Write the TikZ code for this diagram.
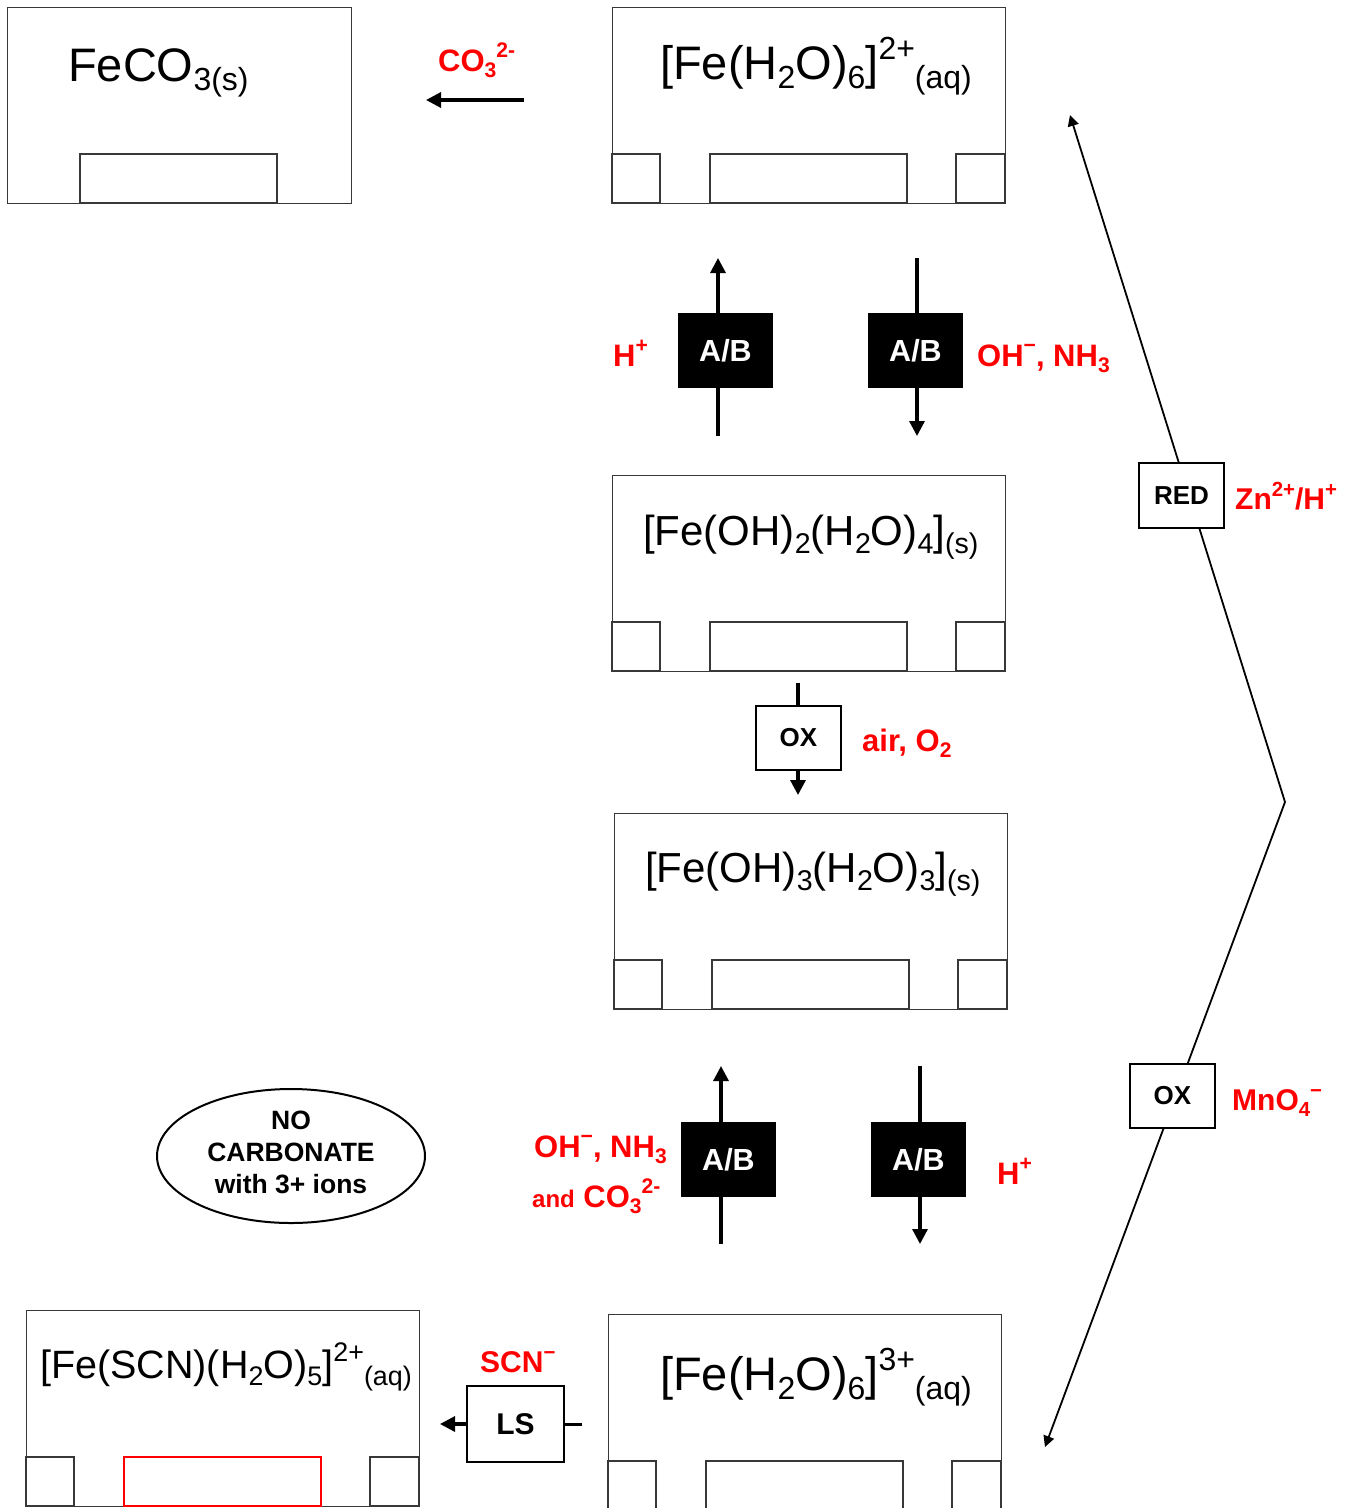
\documentclass[tikz,border=0pt]{standalone}
\usepackage{fontspec}
\setmainfont{Liberation Sans}
\usetikzlibrary{arrows.meta,shapes.geometric}
\newcommand{\dn}[1]{\raisebox{-0.2em}{\scalebox{0.68}{#1}}}
\newcommand{\up}[1]{\raisebox{0.42em}{\scalebox{0.68}{#1}}}
\newcommand{\fs}[1]{\fontsize{#1}{#1}\selectfont}
\newcommand{\slots}[3]{\begin{scope}[shift={(#1,#2)}]
  \draw[sqr] (0,0) rectangle (48,-49);
  \draw[sqr,draw=#3] (98,0) rectangle (295,-49);
  \draw[sqr] (344,0) rectangle (393,-49);
\end{scope}}
\tikzset{
  spbox/.style={draw=black!78, line width=1.3pt, inner sep=0pt, anchor=north west,
    minimum width=393pt, minimum height=196pt},
  sqr/.style={draw=black!78, line width=1.3pt},
  chem/.style={inner sep=0pt, anchor=base west, font=\fs{47}},
  varr/.style={line width=3.2pt, -{Triangle[width=15pt,length=15pt]}},
  zline/.style={line width=1.8pt, -{Triangle[width=11pt,length=11pt]}},
  abbox/.style={fill=black, text=white, inner sep=0pt, minimum width=95pt,
    minimum height=75pt, font=\bfseries\fs{30.5}},
  wbox/.style={draw=black, fill=white, line width=2pt, inner sep=0pt,
    minimum width=85pt, minimum height=64pt, font=\bfseries\fs{26}},
  lbl/.style={text=red, inner sep=0pt, anchor=base west, font=\bfseries\fs{31}}
}
\begin{document}
\begin{tikzpicture}[x=1pt,y=-1pt]
\useasboundingbox (0,0) rectangle (1358,1508);
\fill[white] (0,0) rectangle (1358,1508);

% species boxes
\node[spbox, minimum width=344pt] (feco3) at (7,7) {};
\draw[sqr] (80,203) rectangle (277,154);
\node[chem] (feco3t) at (68,81) {FeCO\dn{3(s)}};

\node[spbox] (fe2) at (612,7) {};
\slots{612}{203}{black!78}
\node[chem] (fe2t) at (660,79) {[Fe(H\dn{2}O)\dn{6}]\up{2+}\dn{(aq)}};

\node[spbox] (feoh2) at (612,475) {};
\slots{612}{671}{black!78}
\node[chem, font=\fs{42}] (feoh2t) at (643,545) {[Fe(OH)\dn{2}(H\dn{2}O)\dn{4}]\dn{(s)}};

\node[spbox] (feoh3) at (614,813) {};
\slots{614}{1009}{black!78}
\node[chem, font=\fs{42}] (feoh3t) at (645,882) {[Fe(OH)\dn{3}(H\dn{2}O)\dn{3}]\dn{(s)}};

\node[spbox] (fe3) at (608,1314) {};
\slots{608}{1510}{black!78}
\node[chem] (fe3t) at (660,1390) {[Fe(H\dn{2}O)\dn{6}]\up{3+}\dn{(aq)}};

\node[spbox] (fescn) at (26,1310) {};
\slots{26}{1506}{red}
\node[chem, font=\fs{39.5}] (fescnt) at (40,1378) {[Fe(SCN)(H\dn{2}O)\dn{5}]\up{2+}\dn{(aq)}};

% CO3 arrow
\coordinate (c3r) at (524,100);
\coordinate (c3l) at (426,100);
\draw[varr] (c3r) -- (c3l);
\node[lbl] (co3l) at (438,71) {CO\dn{3}\up{2-}};

% top A/B pair
\coordinate (a1b) at (718,436); \coordinate (a1t) at (718,258);
\draw[varr] (a1b) -- (a1t);
\coordinate (a2t) at (917,258); \coordinate (a2b) at (917,436);
\draw[varr] (a2t) -- (a2b);
\node[abbox] (ab1) at (725.5,350.5) {A/B};
\node[abbox] (ab2) at (915.5,350.5) {A/B};
\node[lbl] (hp1) at (613,366) {H\up{+}};
\node[lbl] (ohl1) at (977,366) {OH\up{−}, NH\dn{3}};

% middle OX
\coordinate (oxt) at (798,683); \coordinate (oxb) at (798,795);
\draw[varr] (oxt) -- (oxb);
\node[wbox] (ox1) at (798.5,738) {OX};
\node[lbl] (airl) at (862,751) {air, O\dn{2}};

% bottom A/B pair
\coordinate (a3b) at (721,1244); \coordinate (a3t) at (721,1066);
\draw[varr] (a3b) -- (a3t);
\coordinate (a4t) at (920,1066); \coordinate (a4b) at (920,1244);
\draw[varr] (a4t) -- (a4b);
\node[abbox] (ab3) at (728.5,1159.5) {A/B};
\node[abbox] (ab4) at (918.5,1159.5) {A/B};
\node[lbl] (ohl2) at (534,1157) {OH\up{−}, NH\dn{3}};
\node[lbl] (andl) at (532,1207) {{\fs{24}and} CO\dn{3}\up{2-}};
\node[lbl] (hp2) at (997,1184) {H\up{+}};

% right zigzag
\coordinate (peak) at (1285,802);
\coordinate (ztop) at (1070,115);
\coordinate (zbot) at (1045,1447);
\draw[zline] (peak) -- (ztop);
\draw[zline] (peak) -- (zbot);
\node[wbox, minimum height=65pt] (red) at (1181.5,495.5) {RED};
\node[lbl, font=\bfseries\fs{30}] (znl) at (1235,509) {Zn\up{2+}/H\up{+}};
\node[wbox] (ox2) at (1172.5,1096) {OX};
\node[lbl, font=\bfseries\fs{30}] (mnl) at (1232,1110) {MnO\dn{4}\up{−}};

% LS
\node[wbox, line width=2.5pt, minimum width=97pt, minimum height=76pt, font=\bfseries\fs{30}] (ls) at (515.5,1424) {LS};
\coordinate (lsr) at (582,1424);
\coordinate (lsl) at (440,1424);
\draw[line width=3pt] (lsr) -- (ls.east);
\draw[varr] (ls.west) -- (lsl);
\node[lbl, font=\bfseries\fs{30}] (scnl) at (480,1372) {SCN\up{−}};

% ellipse
\node[ellipse, draw=black, line width=2pt, minimum width=268pt, minimum height=134pt,
  inner sep=0pt] (noc) at (291,1156) {};
\node[inner sep=0pt, align=center, font=\bfseries\fontsize{26.5}{32}\selectfont] (noct) at (291,1152)
  {NO\\CARBONATE\\with 3+ ions};
\end{tikzpicture}
\end{document}
